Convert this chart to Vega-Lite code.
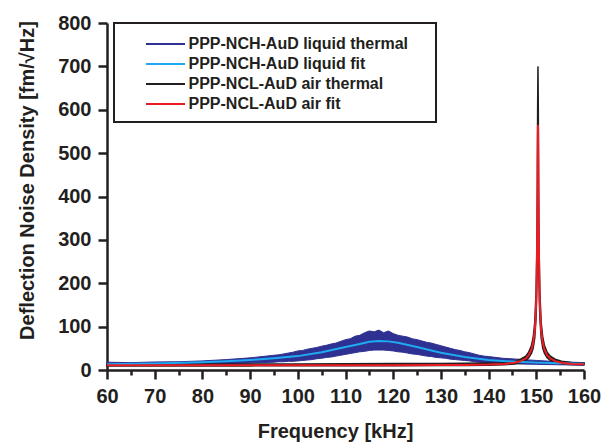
{
  "$schema": "https://vega.github.io/schema/vega-lite/v6.json",
  "autosize": "none",
  "width": 477,
  "height": 347,
  "padding": {"left": 107, "top": 23, "right": 19, "bottom": 73},
  "background": "white",
  "config": {
    "view": {"stroke": null},
    "font": "Liberation Sans",
    "axis": {
      "domainColor": "#231F20", "domainWidth": 2.5, "tickColor": "#231F20", "tickWidth": 2.5,
      "labelFont": "Liberation Sans", "labelFontWeight": "bold", "labelFontSize": 20, "labelColor": "#231F20",
      "labelPadding": 7, "labelOverlap": false, "labelFlush": false, "grid": false,
      "titleFont": "Liberation Sans", "titleFontWeight": "bold", "titleFontSize": 20, "titleColor": "#231F20"
    }
  },
  "datasets": {
    "bands": [
      {"series": "PPP-NCH-AuD liquid thermal", "f": 60, "lo": 11, "hi": 18},
      {"series": "PPP-NCH-AuD liquid thermal", "f": 65, "lo": 11, "hi": 17},
      {"series": "PPP-NCH-AuD liquid thermal", "f": 70, "lo": 11.5, "hi": 18.5},
      {"series": "PPP-NCH-AuD liquid thermal", "f": 75, "lo": 12, "hi": 19},
      {"series": "PPP-NCH-AuD liquid thermal", "f": 80, "lo": 13, "hi": 21},
      {"series": "PPP-NCH-AuD liquid thermal", "f": 85, "lo": 14.5, "hi": 24},
      {"series": "PPP-NCH-AuD liquid thermal", "f": 90, "lo": 16, "hi": 28},
      {"series": "PPP-NCH-AuD liquid thermal", "f": 95, "lo": 18, "hi": 34},
      {"series": "PPP-NCH-AuD liquid thermal", "f": 96, "lo": 19, "hi": 35},
      {"series": "PPP-NCH-AuD liquid thermal", "f": 97, "lo": 19, "hi": 37},
      {"series": "PPP-NCH-AuD liquid thermal", "f": 98, "lo": 20, "hi": 39},
      {"series": "PPP-NCH-AuD liquid thermal", "f": 99, "lo": 20, "hi": 41},
      {"series": "PPP-NCH-AuD liquid thermal", "f": 100, "lo": 21, "hi": 44},
      {"series": "PPP-NCH-AuD liquid thermal", "f": 101, "lo": 22, "hi": 45},
      {"series": "PPP-NCH-AuD liquid thermal", "f": 102, "lo": 23, "hi": 48},
      {"series": "PPP-NCH-AuD liquid thermal", "f": 103, "lo": 24, "hi": 50},
      {"series": "PPP-NCH-AuD liquid thermal", "f": 104, "lo": 26, "hi": 52},
      {"series": "PPP-NCH-AuD liquid thermal", "f": 105, "lo": 27, "hi": 55},
      {"series": "PPP-NCH-AuD liquid thermal", "f": 106, "lo": 29, "hi": 57},
      {"series": "PPP-NCH-AuD liquid thermal", "f": 107, "lo": 30, "hi": 60},
      {"series": "PPP-NCH-AuD liquid thermal", "f": 108, "lo": 32, "hi": 62},
      {"series": "PPP-NCH-AuD liquid thermal", "f": 109, "lo": 34, "hi": 66},
      {"series": "PPP-NCH-AuD liquid thermal", "f": 110, "lo": 36, "hi": 70},
      {"series": "PPP-NCH-AuD liquid thermal", "f": 111, "lo": 38, "hi": 72},
      {"series": "PPP-NCH-AuD liquid thermal", "f": 112, "lo": 40, "hi": 78},
      {"series": "PPP-NCH-AuD liquid thermal", "f": 113, "lo": 42, "hi": 80},
      {"series": "PPP-NCH-AuD liquid thermal", "f": 114, "lo": 43, "hi": 86},
      {"series": "PPP-NCH-AuD liquid thermal", "f": 115, "lo": 45, "hi": 90},
      {"series": "PPP-NCH-AuD liquid thermal", "f": 116, "lo": 46, "hi": 88},
      {"series": "PPP-NCH-AuD liquid thermal", "f": 117, "lo": 46, "hi": 92},
      {"series": "PPP-NCH-AuD liquid thermal", "f": 118, "lo": 46, "hi": 86},
      {"series": "PPP-NCH-AuD liquid thermal", "f": 119, "lo": 45, "hi": 90},
      {"series": "PPP-NCH-AuD liquid thermal", "f": 120, "lo": 44, "hi": 84},
      {"series": "PPP-NCH-AuD liquid thermal", "f": 121, "lo": 42, "hi": 80},
      {"series": "PPP-NCH-AuD liquid thermal", "f": 122, "lo": 41, "hi": 78},
      {"series": "PPP-NCH-AuD liquid thermal", "f": 123, "lo": 39, "hi": 76},
      {"series": "PPP-NCH-AuD liquid thermal", "f": 124, "lo": 37, "hi": 72},
      {"series": "PPP-NCH-AuD liquid thermal", "f": 125, "lo": 36, "hi": 70},
      {"series": "PPP-NCH-AuD liquid thermal", "f": 126, "lo": 34, "hi": 67},
      {"series": "PPP-NCH-AuD liquid thermal", "f": 127, "lo": 32, "hi": 64},
      {"series": "PPP-NCH-AuD liquid thermal", "f": 128, "lo": 31, "hi": 62},
      {"series": "PPP-NCH-AuD liquid thermal", "f": 129, "lo": 29, "hi": 59},
      {"series": "PPP-NCH-AuD liquid thermal", "f": 130, "lo": 28, "hi": 56},
      {"series": "PPP-NCH-AuD liquid thermal", "f": 131, "lo": 27, "hi": 53},
      {"series": "PPP-NCH-AuD liquid thermal", "f": 132, "lo": 25, "hi": 50},
      {"series": "PPP-NCH-AuD liquid thermal", "f": 133, "lo": 24, "hi": 47},
      {"series": "PPP-NCH-AuD liquid thermal", "f": 134, "lo": 23, "hi": 45},
      {"series": "PPP-NCH-AuD liquid thermal", "f": 135, "lo": 22, "hi": 42},
      {"series": "PPP-NCH-AuD liquid thermal", "f": 136, "lo": 21, "hi": 40},
      {"series": "PPP-NCH-AuD liquid thermal", "f": 137, "lo": 19, "hi": 37},
      {"series": "PPP-NCH-AuD liquid thermal", "f": 138, "lo": 18, "hi": 34},
      {"series": "PPP-NCH-AuD liquid thermal", "f": 139, "lo": 17, "hi": 32},
      {"series": "PPP-NCH-AuD liquid thermal", "f": 140, "lo": 17, "hi": 31},
      {"series": "PPP-NCH-AuD liquid thermal", "f": 143, "lo": 15, "hi": 27},
      {"series": "PPP-NCH-AuD liquid thermal", "f": 146, "lo": 14, "hi": 25},
      {"series": "PPP-NCH-AuD liquid thermal", "f": 150, "lo": 13, "hi": 22},
      {"series": "PPP-NCH-AuD liquid thermal", "f": 155, "lo": 12, "hi": 19},
      {"series": "PPP-NCH-AuD liquid thermal", "f": 160, "lo": 11, "hi": 17},

      {"series": "PPP-NCL-AuD air thermal", "f": 60, "lo": 9.5, "hi": 13.5},
      {"series": "PPP-NCL-AuD air thermal", "f": 70, "lo": 9.5, "hi": 13.5},
      {"series": "PPP-NCL-AuD air thermal", "f": 80, "lo": 9.5, "hi": 14},
      {"series": "PPP-NCL-AuD air thermal", "f": 90, "lo": 9.5, "hi": 14},
      {"series": "PPP-NCL-AuD air thermal", "f": 100, "lo": 10, "hi": 14},
      {"series": "PPP-NCL-AuD air thermal", "f": 110, "lo": 10, "hi": 14.5},
      {"series": "PPP-NCL-AuD air thermal", "f": 120, "lo": 10, "hi": 15},
      {"series": "PPP-NCL-AuD air thermal", "f": 130, "lo": 10.5, "hi": 15},
      {"series": "PPP-NCL-AuD air thermal", "f": 135, "lo": 10.5, "hi": 15.5},
      {"series": "PPP-NCL-AuD air thermal", "f": 140, "lo": 11, "hi": 16},
      {"series": "PPP-NCL-AuD air thermal", "f": 143.4, "lo": 12, "hi": 17},
      {"series": "PPP-NCL-AuD air thermal", "f": 145.4, "lo": 14, "hi": 20},
      {"series": "PPP-NCL-AuD air thermal", "f": 146.7, "lo": 17, "hi": 25},
      {"series": "PPP-NCL-AuD air thermal", "f": 147.8, "lo": 22, "hi": 32},
      {"series": "PPP-NCL-AuD air thermal", "f": 148.4, "lo": 28, "hi": 41},
      {"series": "PPP-NCL-AuD air thermal", "f": 149.0, "lo": 39, "hi": 57},
      {"series": "PPP-NCL-AuD air thermal", "f": 149.34, "lo": 50, "hi": 75},
      {"series": "PPP-NCL-AuD air thermal", "f": 149.68, "lo": 74, "hi": 110},
      {"series": "PPP-NCL-AuD air thermal", "f": 149.95, "lo": 120, "hi": 180},
      {"series": "PPP-NCL-AuD air thermal", "f": 150.08, "lo": 170, "hi": 260},
      {"series": "PPP-NCL-AuD air thermal", "f": 150.15, "lo": 215, "hi": 330},
      {"series": "PPP-NCL-AuD air thermal", "f": 150.22, "lo": 290, "hi": 440},
      {"series": "PPP-NCL-AuD air thermal", "f": 150.28, "lo": 390, "hi": 600},
      {"series": "PPP-NCL-AuD air thermal", "f": 150.35, "lo": 460, "hi": 700},
      {"series": "PPP-NCL-AuD air thermal", "f": 150.42, "lo": 390, "hi": 600},
      {"series": "PPP-NCL-AuD air thermal", "f": 150.48, "lo": 290, "hi": 440},
      {"series": "PPP-NCL-AuD air thermal", "f": 150.55, "lo": 215, "hi": 330},
      {"series": "PPP-NCL-AuD air thermal", "f": 150.62, "lo": 170, "hi": 260},
      {"series": "PPP-NCL-AuD air thermal", "f": 150.75, "lo": 120, "hi": 180},
      {"series": "PPP-NCL-AuD air thermal", "f": 151.02, "lo": 74, "hi": 110},
      {"series": "PPP-NCL-AuD air thermal", "f": 151.36, "lo": 50, "hi": 75},
      {"series": "PPP-NCL-AuD air thermal", "f": 151.7, "lo": 39, "hi": 57},
      {"series": "PPP-NCL-AuD air thermal", "f": 152.27, "lo": 28, "hi": 41},
      {"series": "PPP-NCL-AuD air thermal", "f": 152.94, "lo": 22, "hi": 32},
      {"series": "PPP-NCL-AuD air thermal", "f": 153.96, "lo": 17, "hi": 25},
      {"series": "PPP-NCL-AuD air thermal", "f": 155.28, "lo": 14, "hi": 20},
      {"series": "PPP-NCL-AuD air thermal", "f": 157.33, "lo": 12.5, "hi": 17.5},
      {"series": "PPP-NCL-AuD air thermal", "f": 160, "lo": 12, "hi": 17}
    ],
    "fits": [
      {"series": "PPP-NCH-AuD liquid fit", "f": 60, "v": 13},
      {"series": "PPP-NCH-AuD liquid fit", "f": 70, "v": 15},
      {"series": "PPP-NCH-AuD liquid fit", "f": 80, "v": 18},
      {"series": "PPP-NCH-AuD liquid fit", "f": 85, "v": 20},
      {"series": "PPP-NCH-AuD liquid fit", "f": 90, "v": 23},
      {"series": "PPP-NCH-AuD liquid fit", "f": 95, "v": 27},
      {"series": "PPP-NCH-AuD liquid fit", "f": 100, "v": 32},
      {"series": "PPP-NCH-AuD liquid fit", "f": 105, "v": 41},
      {"series": "PPP-NCH-AuD liquid fit", "f": 110, "v": 53},
      {"series": "PPP-NCH-AuD liquid fit", "f": 113, "v": 60},
      {"series": "PPP-NCH-AuD liquid fit", "f": 115, "v": 65},
      {"series": "PPP-NCH-AuD liquid fit", "f": 117, "v": 67},
      {"series": "PPP-NCH-AuD liquid fit", "f": 119, "v": 66},
      {"series": "PPP-NCH-AuD liquid fit", "f": 121, "v": 63},
      {"series": "PPP-NCH-AuD liquid fit", "f": 125, "v": 53},
      {"series": "PPP-NCH-AuD liquid fit", "f": 128, "v": 45},
      {"series": "PPP-NCH-AuD liquid fit", "f": 130, "v": 40},
      {"series": "PPP-NCH-AuD liquid fit", "f": 135, "v": 30},
      {"series": "PPP-NCH-AuD liquid fit", "f": 140, "v": 23},
      {"series": "PPP-NCH-AuD liquid fit", "f": 145, "v": 19.5},
      {"series": "PPP-NCH-AuD liquid fit", "f": 150, "v": 17},
      {"series": "PPP-NCH-AuD liquid fit", "f": 155, "v": 15.5},
      {"series": "PPP-NCH-AuD liquid fit", "f": 160, "v": 14.5},

      {"series": "PPP-NCL-AuD air fit", "f": 60, "v": 11},
      {"series": "PPP-NCL-AuD air fit", "f": 100, "v": 11.1},
      {"series": "PPP-NCL-AuD air fit", "f": 120, "v": 11.2},
      {"series": "PPP-NCL-AuD air fit", "f": 130, "v": 11.4},
      {"series": "PPP-NCL-AuD air fit", "f": 135, "v": 11.7},
      {"series": "PPP-NCL-AuD air fit", "f": 140, "v": 12.6},
      {"series": "PPP-NCL-AuD air fit", "f": 143.4, "v": 14.1},
      {"series": "PPP-NCL-AuD air fit", "f": 145.4, "v": 16.7},
      {"series": "PPP-NCL-AuD air fit", "f": 146.7, "v": 20.4},
      {"series": "PPP-NCL-AuD air fit", "f": 147.8, "v": 26.4},
      {"series": "PPP-NCL-AuD air fit", "f": 148.4, "v": 34.2},
      {"series": "PPP-NCL-AuD air fit", "f": 149.0, "v": 47.3},
      {"series": "PPP-NCL-AuD air fit", "f": 149.34, "v": 62},
      {"series": "PPP-NCL-AuD air fit", "f": 149.68, "v": 91.5},
      {"series": "PPP-NCL-AuD air fit", "f": 149.81, "v": 113.5},
      {"series": "PPP-NCL-AuD air fit", "f": 149.95, "v": 149.4},
      {"series": "PPP-NCL-AuD air fit", "f": 150.08, "v": 214},
      {"series": "PPP-NCL-AuD air fit", "f": 150.15, "v": 270},
      {"series": "PPP-NCL-AuD air fit", "f": 150.22, "v": 358},
      {"series": "PPP-NCL-AuD air fit", "f": 150.25, "v": 416},
      {"series": "PPP-NCL-AuD air fit", "f": 150.28, "v": 482},
      {"series": "PPP-NCL-AuD air fit", "f": 150.32, "v": 540},
      {"series": "PPP-NCL-AuD air fit", "f": 150.35, "v": 565},
      {"series": "PPP-NCL-AuD air fit", "f": 150.38, "v": 540},
      {"series": "PPP-NCL-AuD air fit", "f": 150.42, "v": 482},
      {"series": "PPP-NCL-AuD air fit", "f": 150.45, "v": 416},
      {"series": "PPP-NCL-AuD air fit", "f": 150.48, "v": 358},
      {"series": "PPP-NCL-AuD air fit", "f": 150.55, "v": 270},
      {"series": "PPP-NCL-AuD air fit", "f": 150.62, "v": 214},
      {"series": "PPP-NCL-AuD air fit", "f": 150.75, "v": 149.4},
      {"series": "PPP-NCL-AuD air fit", "f": 150.89, "v": 113.5},
      {"series": "PPP-NCL-AuD air fit", "f": 151.02, "v": 91.5},
      {"series": "PPP-NCL-AuD air fit", "f": 151.36, "v": 62},
      {"series": "PPP-NCL-AuD air fit", "f": 151.7, "v": 47.3},
      {"series": "PPP-NCL-AuD air fit", "f": 152.27, "v": 34.2},
      {"series": "PPP-NCL-AuD air fit", "f": 152.94, "v": 26.4},
      {"series": "PPP-NCL-AuD air fit", "f": 153.96, "v": 20.4},
      {"series": "PPP-NCL-AuD air fit", "f": 155.28, "v": 16.7},
      {"series": "PPP-NCL-AuD air fit", "f": 157.33, "v": 14.1},
      {"series": "PPP-NCL-AuD air fit", "f": 160, "v": 13}
    ]
  },
  "encoding": {
    "x": {
      "field": "f", "type": "quantitative",
      "scale": {"domain": [60, 160], "nice": false, "zero": false},
      "axis": {
        "title": "Frequency [kHz]",
        "values": [60,65,70,75,80,85,90,95,100,105,110,115,120,125,130,135,140,145,150,155,160],
        "labelExpr": "datum.value % 10 === 0 ? datum.label : ''",
        "tickSize": {"condition": {"test": "datum.value % 10 === 0", "value": 9}, "value": 5},
        "titleX": 228, "titleY": 67, "titleBaseline": "alphabetic"
      }
    },
    "color": {
      "field": "series", "type": "nominal",
      "scale": {
        "domain": ["PPP-NCH-AuD liquid thermal", "PPP-NCH-AuD liquid fit", "PPP-NCL-AuD air thermal", "PPP-NCL-AuD air fit"],
        "range": ["#2E3192", "#1EAAF1", "#231F20", "#ED1C24"]
      },
      "legend": {
        "title": ".", "titleOrient": "right", "titlePadding": 13, "titleFontSize": 16, "titleColor": "white",
        "orient": "none", "legendX": 7, "legendY": 0,
        "symbolType": "M-1.95,0L1.95,0", "symbolSize": 400, "symbolStrokeWidth": 2,
        "symbolOffset": 30.5, "labelOffset": 12,
        "labelFont": "Liberation Sans", "labelFontWeight": "bold", "labelFontSize": 16, "labelColor": "#231F20",
        "labelLimit": 400,
        "padding": 10, "rowPadding": 1,
        "strokeColor": "#231F20", "fillColor": "white",
        "encode": {
          "legend": {"update": {"strokeWidth": {"value": 2}}},
          "symbols": {"update": {"fill": {"value": "transparent"}, "stroke": {"scale": "color", "field": "value"}, "strokeWidth": {"value": 2}, "shape": {"value": "M-1.95,0L1.95,0"}}}
        }
      }
    }
  },
  "layer": [
    {
      "data": {"name": "bands"},
      "transform": [{"filter": "datum.series === 'PPP-NCH-AuD liquid thermal'"}],
      "mark": {"type": "area", "strokeWidth": 1, "opacity": 1},
      "encoding": {
        "y": {"field": "lo", "type": "quantitative", "scale": {"domain": [0, 800], "nice": false},
          "axis": {
            "title": "Deflection Noise Density [fm/\u221aHz]",
            "values": [0,50,100,150,200,250,300,350,400,450,500,550,600,650,700,750,800],
            "labelExpr": "datum.value % 100 === 0 ? datum.label : ''",
            "tickSize": {"condition": {"test": "datum.value % 100 === 0", "value": 9}, "value": 5},
            "titleX": -74, "titleY": 157, "titleBaseline": "alphabetic", "titleAngle": -90
          }},
        "y2": {"field": "hi"},
        "stroke": {"field": "series", "type": "nominal", "scale": {"domain": ["PPP-NCH-AuD liquid thermal", "PPP-NCH-AuD liquid fit", "PPP-NCL-AuD air thermal", "PPP-NCL-AuD air fit"], "range": ["#2E3192", "#1EAAF1", "#231F20", "#ED1C24"]}, "legend": null}
      }
    },
    {
      "data": {"name": "bands"},
      "transform": [{"filter": "datum.series === 'PPP-NCL-AuD air thermal'"}],
      "mark": {"type": "area", "strokeWidth": 1.5, "opacity": 1},
      "encoding": {
        "y": {"field": "lo", "type": "quantitative"},
        "y2": {"field": "hi"},
        "stroke": {"field": "series", "type": "nominal", "legend": null}
      }
    },
    {
      "data": {"name": "fits"},
      "transform": [{"filter": "datum.series === 'PPP-NCH-AuD liquid fit'"}],
      "mark": {"type": "line", "strokeWidth": 2},
      "encoding": {"y": {"field": "v", "type": "quantitative"}}
    },
    {
      "data": {"name": "fits"},
      "transform": [{"filter": "datum.series === 'PPP-NCL-AuD air fit'"}],
      "mark": {"type": "line", "strokeWidth": 2},
      "encoding": {"y": {"field": "v", "type": "quantitative"}}
    }
  ]
}
